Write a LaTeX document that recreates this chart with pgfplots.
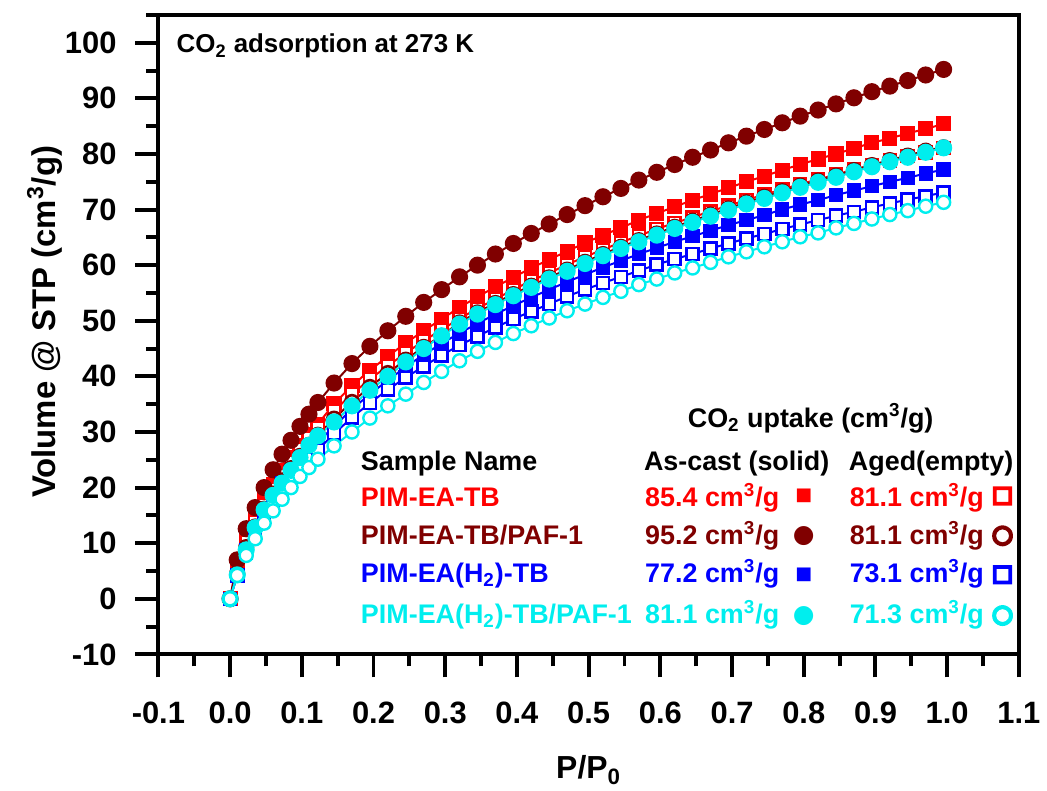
\documentclass[border=0pt]{standalone}
\usepackage{pgfplots}
\pgfplotsset{compat=1.18}
\usepackage{pgfplotstable}
\usepackage{fontspec}
\setmainfont{Liberation Sans}
\newfontfamily\symfont{DejaVu Sans}
\definecolor{dred}{RGB}{128,0,0}
\definecolor{cy}{RGB}{0,238,238}
\definecolor{bl}{RGB}{0,0,255}
\definecolor{rd}{RGB}{255,0,0}

\pgfplotstableread{
x Rs Ro Ds Do Bs Bo Cs Co
0 0 0 0 0 0 0 0 0
0.01 6.0 5.5 7.0 4.6 4.3 4.2 4.3 4.2
0.0225 11.0 10.3 12.6 9.3 8.8 8.3 8.8 7.8
0.035 14.4 13.8 16.4 13.0 12.5 11.5 12.8 10.8
0.0475 17.8 17.0 20.0 16.2 15.6 14.4 16.0 13.6
0.06 20.6 19.8 23.2 18.9 18.3 16.9 18.6 15.8
0.0725 23.1 22.4 26.0 21.3 20.8 19.2 20.8 17.9
0.085 25.4 24.7 28.5 23.5 22.8 21.4 23.1 20.0
0.0975 27.6 27.0 31.0 25.7 24.8 23.4 25.4 22.0
0.11 29.5 28.9 33.2 27.7 26.6 25.2 27.6 23.6
0.1225 31.4 30.7 35.3 29.5 28.2 26.8 29.3 25.1
0.145 35.1 33.8 38.8 32.4 31.0 29.7 31.8 27.5
0.17 38.3 36.8 42.3 35.4 34.1 32.6 34.7 30.0
0.195 41.1 39.5 45.4 38.1 36.8 35.2 37.5 32.5
0.22 43.6 41.9 48.2 40.6 39.3 37.6 40.0 34.7
0.245 46.0 44.2 50.8 43.0 41.7 39.8 42.6 36.8
0.27 48.2 46.4 53.3 45.3 43.9 41.8 45.0 38.9
0.295 50.3 48.4 55.6 47.3 45.9 43.8 47.3 40.9
0.32 52.4 50.4 57.9 49.7 47.8 45.6 49.4 42.8
0.345 54.3 52.2 60.0 51.5 49.5 47.2 51.2 44.5
0.37 56.1 53.9 62.0 53.2 51.2 48.8 52.9 46.1
0.395 57.8 55.6 63.9 54.8 52.7 50.3 54.5 47.7
0.42 59.5 57.2 65.7 56.3 54.2 51.7 56.0 49.1
0.445 61.0 58.6 67.4 57.8 55.6 53.0 57.5 50.5
0.47 62.5 60.1 69.1 59.2 57.0 54.4 58.9 51.8
0.495 64.0 61.5 70.7 60.6 58.3 55.6 60.3 53.0
0.52 65.4 62.8 72.3 62.0 59.6 56.8 61.7 54.2
0.545 66.7 64.1 73.8 63.3 60.8 57.9 63.0 55.3
0.57 68.1 65.3 75.3 64.5 62.0 59.0 64.2 56.5
0.595 69.3 66.5 76.7 65.7 63.1 60.1 65.4 57.5
0.62 70.5 67.6 78.1 66.9 64.2 61.1 66.6 58.6
0.645 71.7 68.6 79.4 68.0 65.2 62.0 67.7 59.5
0.67 72.8 69.7 80.7 69.1 66.2 63.0 68.8 60.5
0.695 73.9 70.7 82.0 70.2 67.2 63.9 69.9 61.5
0.72 75.0 71.7 83.2 71.3 68.1 64.8 71.0 62.4
0.745 76.0 72.7 84.4 72.3 69.0 65.6 72.0 63.3
0.77 77.1 73.6 85.6 73.3 70.0 66.5 73.0 64.2
0.795 78.1 74.6 86.8 74.3 70.9 67.3 74.0 65.1
0.82 79.1 75.4 87.9 75.2 71.7 68.1 74.9 65.8
0.845 80.0 76.3 89.0 76.1 72.6 68.9 75.8 66.7
0.87 81.0 77.2 90.1 77.1 73.4 69.6 76.8 67.5
0.895 82.0 78.0 91.2 78.0 74.2 70.4 77.7 68.3
0.92 82.8 78.8 92.2 78.9 75.0 71.1 78.6 69.1
0.945 83.7 79.6 93.2 79.7 75.7 71.8 79.4 69.8
0.97 84.5 80.3 94.2 80.6 76.5 72.4 80.3 70.6
0.995 85.4 81.1 95.2 81.2 77.2 73.1 81.1 71.3
}\data

\newcommand{\lgf}{\fontsize{13.5}{16}\selectfont\bfseries}
% hollow symbol: one outline glyph, stroked thicker (text render mode 2)
\newcommand{\thick}[1]{\special{pdf:literal direct 2 Tr 1.3 w}#1\special{pdf:literal direct 0 Tr}}
\tikzset{
  sq/.style={anchor=center, inner sep=0pt, font=\symfont\fontsize{#1}{#1}\selectfont},
}

\begin{document}
\begin{tikzpicture}
\begin{axis}[
  scale only axis, width=432pt, height=321pt,
  xmin=-0.1, xmax=1.1, ymin=-10, ymax=105,
  xtick={-0.1,0,0.1,0.2,0.3,0.4,0.5,0.6,0.7,0.8,0.9,1.0,1.1},
  xticklabels={-0.1,0.0,0.1,0.2,0.3,0.4,0.5,0.6,0.7,0.8,0.9,1.0,1.1},
  minor xtick={-0.05,0.05,0.15,0.25,0.35,0.45,0.55,0.65,0.75,0.85,0.95,1.05},
  ytick={-10,0,10,20,30,40,50,60,70,80,90,100},
  yticklabels={-10,0,10,20,30,40,50,60,70,80,90,100},
  minor ytick={-5,5,15,25,35,45,55,65,75,85,95,105},
  tick pos=left, tick align=outside,
  major tick length=11.5pt, minor tick length=6pt,
  every tick/.style={black, line width=2pt},
  axis line style={line width=2pt},
  tick label style={font=\fontsize{15.5}{18}\selectfont\bfseries},
  xticklabel style={yshift=-9pt},
  yticklabel style={xshift=-6pt},
  xlabel={P/P\textsubscript{0}},
  ylabel={Volume @ STP (cm\textsuperscript{3}/g)},
  every axis x label/.style={at={(axis description cs:0.5,-0.181)}, anchor=center, font=\fontsize{16}{19}\selectfont\bfseries},
  every axis y label/.style={at={(axis description cs:-0.132,0.52)}, anchor=center, rotate=90, font=\fontsize{16.5}{19}\selectfont\bfseries},
]
\addplot[rd, line width=1pt, mark=square*, mark size=3.3pt, mark options={fill=rd}] table[x=x,y=Rs]{\data};
\addplot[rd, line width=1pt, mark=square*, mark size=3.0pt, mark options={fill=white, line width=1.3pt}] table[x=x,y=Ro]{\data};
\addplot[dred, line width=1pt, mark=*, mark size=3.8pt, mark options={fill=dred}] table[x=x,y=Ds]{\data};
\addplot[dred, line width=1pt, mark=*, mark size=3.4pt, mark options={fill=white, line width=1.3pt}] table[x=x,y=Do]{\data};
\addplot[bl, line width=1pt, mark=square*, mark size=3.1pt, mark options={fill=bl}] table[x=x,y=Bs]{\data};
\addplot[bl, line width=1pt, mark=square*, mark size=3.0pt, mark options={fill=white, line width=1.3pt}] table[x=x,y=Bo]{\data};
\addplot[cy, line width=1pt, mark=*, mark size=3.8pt, mark options={fill=cy}] table[x=x,y=Cs]{\data};
\addplot[cy, line width=1pt, mark=*, mark size=3.3pt, mark options={fill=white, line width=1.2pt}] table[x=x,y=Co]{\data};

\node[anchor=base west, inner sep=0pt, font=\fontsize{13}{15}\selectfont\bfseries] at (axis description cs:0.0208,0.941) {CO\textsubscript{2} adsorption at 273 K};

\node[anchor=base, inner sep=0pt, font=\lgf] at (axis description cs:0.758,0.355) {CO\textsubscript{2} uptake (cm\textsuperscript{3}/g)};
\node[anchor=base west, inner sep=0pt, font=\lgf] at (axis description cs:0.235,0.288) {Sample Name};
\node[anchor=base, inner sep=0pt, font=\lgf] at (axis description cs:0.672,0.288) {As-cast (solid)};
\node[anchor=base, inner sep=0pt, font=\lgf] at (axis description cs:0.898,0.288) {Aged(empty)};

\node[anchor=base west, inner sep=0pt, font=\lgf, text=rd] at (axis description cs:0.235,0.2305) {PIM-EA-TB};
\node[anchor=base west, inner sep=0pt, font=\lgf, text=dred] at (axis description cs:0.235,0.1713) {PIM-EA-TB/PAF-1};
\node[anchor=base west, inner sep=0pt, font=\lgf, text=bl] at (axis description cs:0.235,0.1121) {PIM-EA(H\textsubscript{2})-TB};
\node[anchor=base west, inner sep=0pt, font=\lgf, text=cy] at (axis description cs:0.235,0.0483) {PIM-EA(H\textsubscript{2})-TB/PAF-1};

\node[anchor=base east, inner sep=0pt, font=\lgf, text=rd] at (axis description cs:0.722,0.2305) {85.4 cm\textsuperscript{3}/g};
\node[anchor=base east, inner sep=0pt, font=\lgf, text=dred] at (axis description cs:0.722,0.1713) {95.2 cm\textsuperscript{3}/g};
\node[anchor=base east, inner sep=0pt, font=\lgf, text=bl] at (axis description cs:0.722,0.1121) {77.2 cm\textsuperscript{3}/g};
\node[anchor=base east, inner sep=0pt, font=\lgf, text=cy] at (axis description cs:0.722,0.0483) {81.1 cm\textsuperscript{3}/g};

\node[anchor=base west, inner sep=0pt, font=\lgf, text=rd] at (axis description cs:0.803,0.2305) {81.1 cm\textsuperscript{3}/g};
\node[anchor=base west, inner sep=0pt, font=\lgf, text=dred] at (axis description cs:0.803,0.1713) {81.1 cm\textsuperscript{3}/g};
\node[anchor=base west, inner sep=0pt, font=\lgf, text=bl] at (axis description cs:0.803,0.1121) {73.1 cm\textsuperscript{3}/g};
\node[anchor=base west, inner sep=0pt, font=\lgf, text=cy] at (axis description cs:0.803,0.0483) {71.3 cm\textsuperscript{3}/g};

\node[sq=9, text=rd] at (axis description cs:0.75,0.2477) {■};
\node[sq=12.5, text=dred] at (axis description cs:0.75,0.1854) {●};
\node[sq=9, text=bl] at (axis description cs:0.75,0.1246) {■};
\node[sq=12.5, text=cy] at (axis description cs:0.75,0.0607) {●};

\node[sq=11, text=rd] at (axis description cs:0.981,0.2477) {\thick{□}};
\node[sq=12, text=dred] at (axis description cs:0.981,0.1854) {\thick{○}};
\node[sq=11, text=bl] at (axis description cs:0.981,0.1246) {\thick{□}};
\node[sq=12, text=cy] at (axis description cs:0.981,0.0607) {\thick{○}};
\end{axis}
\path ([xshift=-79.5pt,yshift=-68pt]current axis.south west) rectangle ([xshift=12pt,yshift=7.5pt]current axis.north east);
\end{tikzpicture}
\end{document}
